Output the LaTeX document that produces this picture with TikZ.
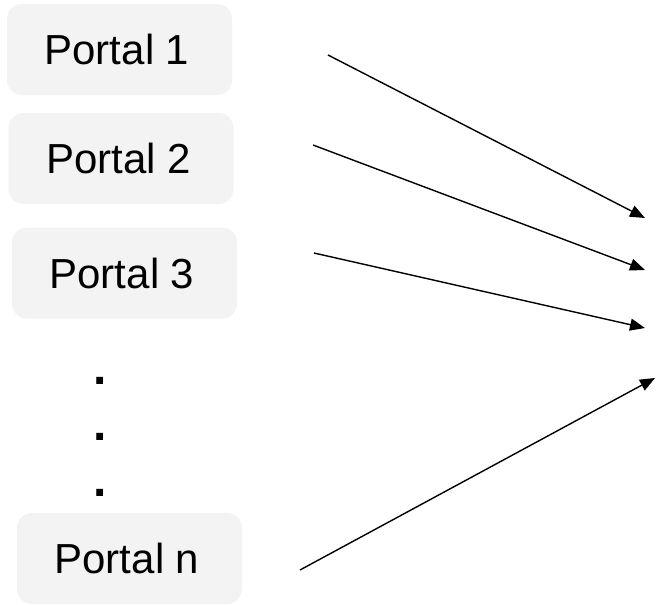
\documentclass[tikz,border=0pt]{standalone}
\usepackage{fontspec}
\setmainfont{Liberation Sans}
\usetikzlibrary{arrows.meta}
\definecolor{boxgray}{HTML}{F3F3F3}
\newcommand{\portalpad}{\hspace*{5pt}}
\begin{document}
\begin{tikzpicture}[x=1pt,y=-1pt,
  portal/.style={fill=boxgray,draw=none,rounded corners=15pt,minimum width=225pt,minimum height=91pt,inner sep=0pt,font=\fontsize{42}{48}\selectfont},
  dotmark/.style={inner sep=0pt,font=\fontsize{48}{52}\selectfont\bfseries},
  link/.style={line width=1.4pt,-{Triangle[length=15pt,width=12pt]}}]
\useasboundingbox (0,0) rectangle (657,605);
\node[portal] (p1) at (119.5,49.5) {Portal 1\portalpad};
\node[portal] (p2) at (121,158.5) {Portal 2\portalpad};
\node[portal] (p3) at (124.5,273) {Portal 3\portalpad};
\node[portal] (pn) at (129.5,558.5) {Portal n\portalpad};
\node[dotmark] (d1) at (100,381) {.};
\node[dotmark] (d2) at (100,436.5) {.};
\node[dotmark] (d3) at (100,492.5) {.};
\coordinate (s1) at (328,55);
\coordinate (s2) at (313,145);
\coordinate (s3) at (314,253);
\coordinate (sn) at (300,570);
\coordinate (t1) at (645,218);
\coordinate (t2) at (645,270);
\coordinate (t3) at (645,328);
\coordinate (tn) at (655,378);
\draw[link] (s1) -- (t1);
\draw[link] (s2) -- (t2);
\draw[link] (s3) -- (t3);
\draw[link] (sn) -- (tn);
\end{tikzpicture}
\end{document}
